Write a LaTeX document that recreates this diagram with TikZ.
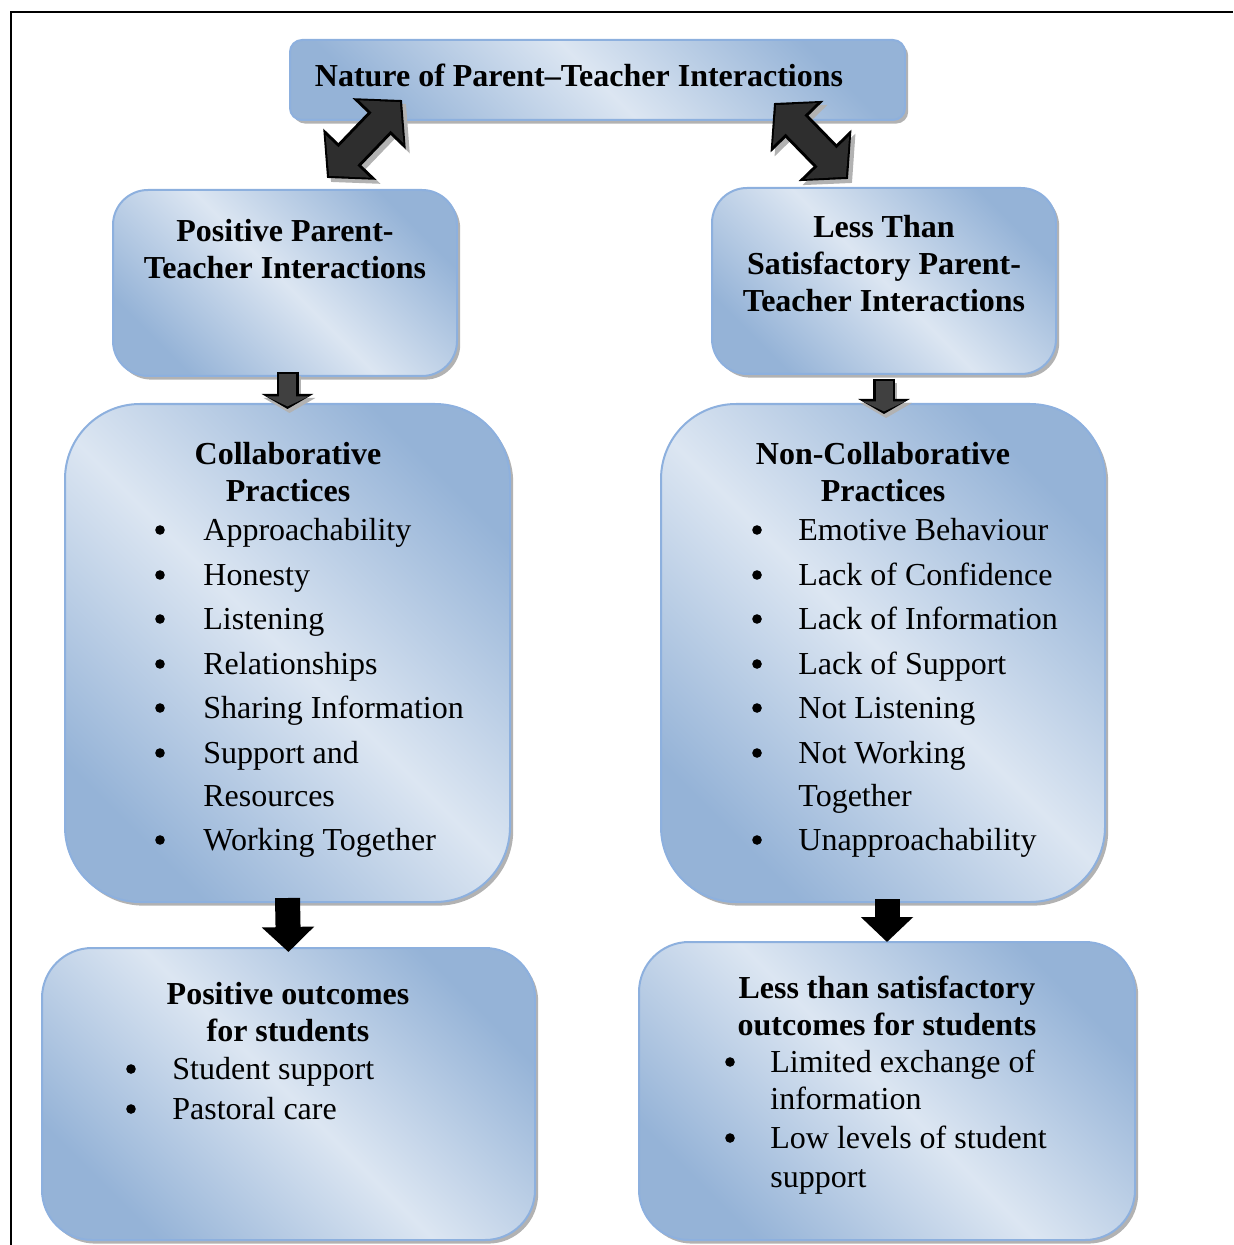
\documentclass[tikz,border=0pt]{standalone}
\usepackage{fontspec}
\setmainfont{Liberation Serif}
\usetikzlibrary{positioning, calc, arrows.meta, shadows}

\begin{document}
\begin{tikzpicture}[x=0.5pt, y=-0.5pt,
    box/.style={draw=boxline, line width=1pt, top color=boxdark, bottom color=boxdark,
        middle color=boxlight, shading angle=-45, inner sep=0pt,
        drop shadow={shadow xshift=1.6pt, shadow yshift=-1.8pt, fill=gray!60, opacity=1}},
    head/.style={font=\bfseries\fontsize{16}{18.5}\selectfont, align=center, inner sep=0pt},
    item/.style={font=\fontsize{16}{19}\selectfont, anchor=base west, inner sep=0pt},
    dot/.style={circle, fill=black, inner sep=0pt, minimum size=4.8pt},
    twinshadow/.style={gray!60, line width=16pt, {Triangle[width=36pt,length=16.5pt]}-{Triangle[width=36pt,length=16.5pt]},
        transform canvas={xshift=2pt, yshift=-2pt}},
    twinedge/.style={black, line width=16pt, {Triangle[width=36pt,length=16.5pt]}-{Triangle[width=36pt,length=16.5pt]}},
    twinfill/.style={black!82, line width=13pt, {Triangle[width=30pt,length=13.5pt]}-{Triangle[width=30pt,length=13.5pt]},
        shorten <=1.5pt, shorten >=1.5pt},
    smallshadow/.style={gray!60, line width=11pt, -{Triangle[width=25.5pt,length=7.5pt]}, transform canvas={xshift=1pt, yshift=-2pt}},
    smalledge/.style={black, line width=11pt, -{Triangle[width=25.5pt,length=7.5pt]}},
    smallfill/.style={black!75, line width=8.5pt, -{Triangle[width=21pt,length=5pt]}, shorten <=1.2pt, shorten >=1.3pt},
    bigarrow/.style={black, line width=12.5pt, -{Triangle[width=25.5pt,length=12.5pt]}}]

    % Colours
    \definecolor{boxdark}{RGB}{149,179,215}
    \definecolor{boxlight}{RGB}{220,230,242}
    \definecolor{boxline}{RGB}{141,176,222}

    \useasboundingbox (0,0) rectangle (1233,1245);

    % Frame
    \draw[line width=1pt] (11,1245) -- (11,12) -- (1233,12);

    % 1. Top box
    \node[box, rounded corners=6pt, minimum width=307.5pt, minimum height=40pt] (nature) at (597.5,80) {};
    \node[head] (naturetxt) at (579,75) {Nature of Parent--Teacher Interactions};

    % 2. Interaction boxes
    \node[box, rounded corners=17.5pt, minimum width=172pt, minimum height=93pt] (posint) at (285,283) {};
    \node[head] (posinttxt) at (285,249) {Positive Parent-\\Teacher Interactions};

    \node[box, rounded corners=17.5pt, minimum width=172pt, minimum height=93pt] (lessint) at (884,281) {};
    \node[head] (lessinttxt) at (884,264) {Less Than\\Satisfactory Parent-\\Teacher Interactions};

    % 3. Practice boxes
    \node[box, rounded corners=37.5pt, minimum width=222.5pt, minimum height=249pt] (collab) at (287.5,653) {};
    \node[head] (collabtxt) at (288,472) {Collaborative\\Practices};
    \foreach \txt/\yy [count=\i] in {Approachability/540, Honesty/585, Listening/629, Relationships/674,
        Sharing Information/718, Support and/763, Working Together/850} {
        \node[dot] (cb\i) at (160,\yy-10) {};
        \node[item] (ci\i) at (203,\yy) {\txt};
    }
    \node[item] (ci6b) at (203,806) {Resources};

    \node[box, rounded corners=37.5pt, minimum width=222pt, minimum height=249pt] (noncollab) at (883,653) {};
    \node[head] (noncollabtxt) at (883,472) {Non-Collaborative\\Practices};
    \foreach \txt/\yy [count=\i] in {Emotive Behaviour/540, Lack of Confidence/585, Lack of Information/629,
        Lack of Support/674, Not Listening/718, Not Working/763, Unapproachability/850} {
        \node[dot] (nb\i) at (757,\yy-10) {};
        \node[item] (ni\i) at (798,\yy) {\txt};
    }
    \node[item] (ni6b) at (798,806) {Together};

    % 4. Outcome boxes
    \node[box, rounded corners=25pt, minimum width=246.5pt, minimum height=146pt] (posout) at (288.5,1094) {};
    \node[head] (posouttxt) at (288,1012) {Positive outcomes\\for students};
    \foreach \txt/\yy [count=\i] in {Student support/1079, Pastoral care/1119} {
        \node[dot] (pb\i) at (131,\yy-10) {};
        \node[item] (pi\i) at (172,\yy) {\txt};
    }

    \node[box, rounded corners=25pt, minimum width=248pt, minimum height=149pt] (lessout) at (887,1091) {};
    \node[head] (lessouttxt) at (887,1006) {Less than satisfactory\\outcomes for students};
    \foreach \txt/\yy [count=\i] in {Limited exchange of/1072, Low levels of student/1148} {
        \node[dot] (lb\i) at (730,\yy-10) {};
        \node[item] (li\i) at (770,\yy) {\txt};
    }
    \node[item] (li1b) at (770,1109) {information};
    \node[item] (li2b) at (770,1187) {support};

    % 5. Arrows
    \coordinate (lup) at ($(nature.south west)+(113,-21)$);
    \coordinate (llow) at ($(posint.north)+(42,-11)$);
    \coordinate (rup) at ($(nature.south east)+(-132,-18)$);
    \coordinate (rlow) at ($(lessint.north)+(-36,-8)$);
    \foreach \a/\b in {llow/lup, rlow/rup} {
        \draw[twinshadow] (\a) -- (\b);
        \draw[twinedge] (\a) -- (\b);
        \draw[twinfill] (\a) -- (\b);
    }

    \coordinate (s1) at ($(posint.south -| collab.north)+(0,-5)$);
    \coordinate (e1) at ($(collab.north)+(0,6)$);
    \coordinate (s2) at ($(lessint.south -| noncollab.north)+(1,4)$);
    \coordinate (e2) at ($(noncollab.north)+(1,11)$);
    \foreach \a/\b in {s1/e1, s2/e2} {
        \draw[smallshadow] (\a) -- (\b);
        \draw[smalledge] (\a) -- (\b);
        \draw[smallfill] (\a) -- (\b);
    }

    \draw[bigarrow] ($(collab.south)+(0,-5)$) -- ($(posout.north)+(0,5)$);
    \draw[bigarrow] ($(noncollab.south -| lessout.north)+(0,-4)$) -- ($(lessout.north)+(0,1)$);

\end{tikzpicture}
\end{document}
